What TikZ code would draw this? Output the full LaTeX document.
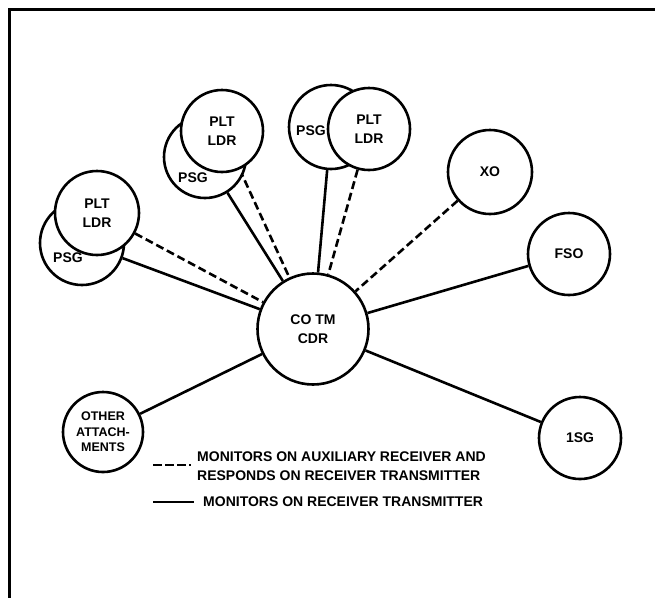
\documentclass[tikz,border=0pt]{standalone}
\usepackage{fontspec}
\setmainfont{Liberation Sans}
\pgfdeclarelayer{background}
\pgfsetlayers{background,main}
\tikzset{
  sta/.style={circle, draw, fill=white, line width=2.6pt, minimum size=82pt,
    inner sep=0pt, align=center, font=\fontsize{14}{19}\selectfont\bfseries},
  lbl/.style={font=\fontsize{14}{19}\selectfont\bfseries, inner sep=0pt},
  net/.style={line width=2.6pt},
  aux/.style={line width=2.6pt, dash pattern=on 8pt off 4pt},
}
\begin{document}
\begin{tikzpicture}[x=1pt, y=-1pt]
  \useasboundingbox (0,0) rectangle (655,598);
  % Frame (top and left only)
  \draw[line width=3pt] (655,9) -- (9,9) -- (9,598);
  % Company commander
  \node[sta, minimum size=111pt] (cdr) at (313,329) {CO TM\\CDR};
  % Platoon sergeants (behind) and platoon leaders (front)
  \node[sta, minimum size=84pt] (psgA) at (82,243) {};
  \node[lbl] (psgAt) at (68,258) {PSG};
  \node[sta, minimum size=84pt] (ldrA) at (97,213) {PLT\\LDR};
  \node[sta] (psgB) at (205,157) {};
  \node[lbl] (psgBt) at (193,178) {PSG};
  \node[sta] (ldrB) at (222,131) {PLT\\LDR};
  \node[sta, minimum size=84pt] (psgC) at (331,127) {};
  \node[lbl] (psgCt) at (311,131) {PSG};
  \node[sta] (ldrC) at (369,129) {PLT\\LDR};
  % Others
  \node[sta, minimum size=84pt] (xo) at (490,172) {XO};
  \node[sta] (fso) at (569,254) {FSO};
  \node[sta] (isg) at (580,438) {1SG};
  \node[sta, minimum size=80pt, font=\fontsize{12.5}{15.5}\selectfont\bfseries]
    (oth) at (103,432) {OTHER\\ATTACH-\\MENTS};
  % Links
  \begin{pgfonlayer}{background}
    \draw[aux] (ldrA) -- (cdr);
    \draw[net] (psgA) -- (cdr);
    \draw[net] (psgB) -- (cdr);
    \draw[aux] (ldrB) -- (cdr);
    \draw[net] (psgC) -- (cdr);
    \draw[aux] (ldrC) -- (cdr);
    \draw[aux] (xo) -- (cdr);
    \draw[net] (fso) -- (cdr);
    \draw[net] (isg) -- (cdr);
    \draw[net] (oth) -- (cdr);
  \end{pgfonlayer}
  % Legend
  \coordinate (kA1) at (153,465);
  \coordinate (kA2) at (191,465);
  \coordinate (kB1) at (153,502);
  \coordinate (kB2) at (194,502);
  \draw[line width=2.6pt, dash pattern=on 9pt off 3pt] (kA1) -- (kA2);
  \draw[net] (kB1) -- (kB2);
  \node[lbl, anchor=west, align=left] (keyA) at (197,466)
    {MONITORS ON AUXILIARY RECEIVER AND\\RESPONDS ON RECEIVER TRANSMITTER};
  \node[lbl, anchor=west] (keyB) at (203,502) {MONITORS ON RECEIVER TRANSMITTER};
\end{tikzpicture}
\end{document}
